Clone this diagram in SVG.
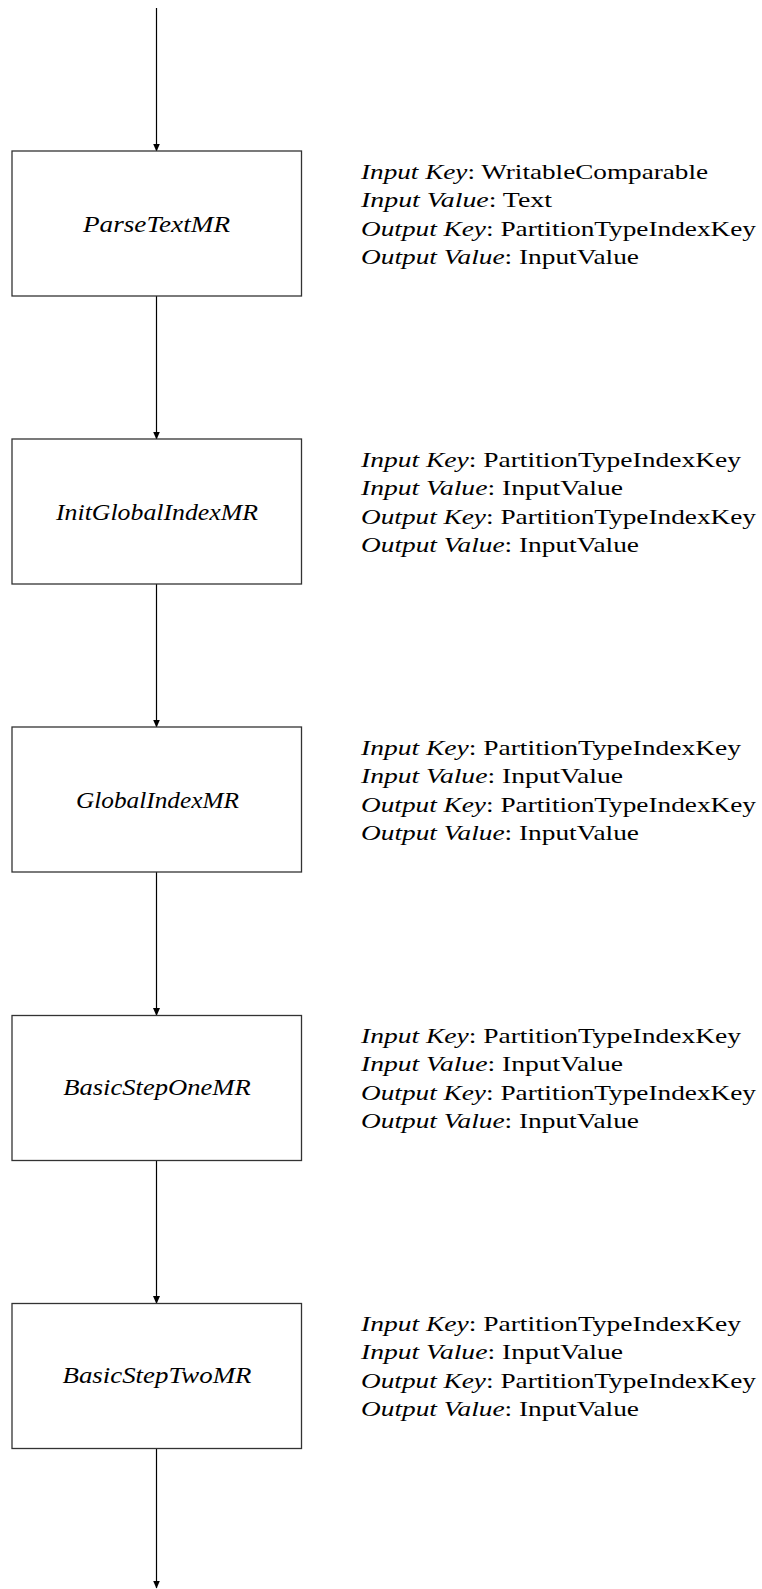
<svg xmlns="http://www.w3.org/2000/svg" width="762" height="1589" viewBox="0 0 762 1589">
<style>
.box{fill:#fff;stroke:#333;stroke-width:1.3}
text{font-family:"Liberation Serif","Times New Roman","DejaVu Serif",serif}
.lbl{font-style:italic;font-size:23px;text-anchor:middle;fill:#000}
.info{font-size:21.5px;fill:#000}
.it{font-style:italic}
.edge{stroke:#000;stroke-width:1.2;fill:none}
</style>
<defs>
<marker id="ah" markerWidth="8" markerHeight="11" refX="7.5" refY="3.5" orient="auto" markerUnits="userSpaceOnUse" viewBox="0 0 8 7">
<path d="M0,0 L8,3.5 L0,7 Z" fill="#000"/>
</marker>
</defs>
<g id="connectors">
<line class="edge" x1="156.5" y1="8" x2="156.5" y2="151" marker-end="url(#ah)"/>
<line class="edge" x1="156.5" y1="296" x2="156.5" y2="439" marker-end="url(#ah)"/>
<line class="edge" x1="156.5" y1="584" x2="156.5" y2="727" marker-end="url(#ah)"/>
<line class="edge" x1="156.5" y1="872" x2="156.5" y2="1015.5" marker-end="url(#ah)"/>
<line class="edge" x1="156.5" y1="1160.5" x2="156.5" y2="1303.5" marker-end="url(#ah)"/>
<line class="edge" x1="156.5" y1="1448.5" x2="156.5" y2="1588" marker-end="url(#ah)"/>
</g>
<g id="node1">
<rect class="box" x="12" y="151" width="289.5" height="145"/>
<text class="lbl" x="156.5" y="231.5" font-family="Liberation Serif, serif" textLength="147" lengthAdjust="spacingAndGlyphs">ParseTextMR</text>
</g>
<g id="info1">
<text class="info" x="361" y="179" font-family="Liberation Serif, serif" textLength="347" lengthAdjust="spacingAndGlyphs"><tspan class="it">Input Key</tspan>: WritableComparable</text>
<text class="info" x="361" y="207.4" font-family="Liberation Serif, serif" textLength="191" lengthAdjust="spacingAndGlyphs"><tspan class="it">Input Value</tspan>: Text</text>
<text class="info" x="361" y="235.8" font-family="Liberation Serif, serif" textLength="395" lengthAdjust="spacingAndGlyphs"><tspan class="it">Output Key</tspan>: PartitionTypeIndexKey</text>
<text class="info" x="361" y="264.2" font-family="Liberation Serif, serif" textLength="278" lengthAdjust="spacingAndGlyphs"><tspan class="it">Output Value</tspan>: InputValue</text>
</g>
<g id="node2">
<rect class="box" x="12" y="439" width="289.5" height="145"/>
<text class="lbl" x="157" y="519.5" font-family="Liberation Serif, serif" textLength="202" lengthAdjust="spacingAndGlyphs">InitGlobalIndexMR</text>
</g>
<g id="info2">
<text class="info" x="361" y="467" font-family="Liberation Serif, serif" textLength="380" lengthAdjust="spacingAndGlyphs"><tspan class="it">Input Key</tspan>: PartitionTypeIndexKey</text>
<text class="info" x="361" y="495.4" font-family="Liberation Serif, serif" textLength="262" lengthAdjust="spacingAndGlyphs"><tspan class="it">Input Value</tspan>: InputValue</text>
<text class="info" x="361" y="523.8" font-family="Liberation Serif, serif" textLength="395" lengthAdjust="spacingAndGlyphs"><tspan class="it">Output Key</tspan>: PartitionTypeIndexKey</text>
<text class="info" x="361" y="552.2" font-family="Liberation Serif, serif" textLength="278" lengthAdjust="spacingAndGlyphs"><tspan class="it">Output Value</tspan>: InputValue</text>
</g>
<g id="node3">
<rect class="box" x="12" y="727" width="289.5" height="145"/>
<text class="lbl" x="157.5" y="808" font-family="Liberation Serif, serif" textLength="163" lengthAdjust="spacingAndGlyphs">GlobalIndexMR</text>
</g>
<g id="info3">
<text class="info" x="361" y="755" font-family="Liberation Serif, serif" textLength="380" lengthAdjust="spacingAndGlyphs"><tspan class="it">Input Key</tspan>: PartitionTypeIndexKey</text>
<text class="info" x="361" y="783.4" font-family="Liberation Serif, serif" textLength="262" lengthAdjust="spacingAndGlyphs"><tspan class="it">Input Value</tspan>: InputValue</text>
<text class="info" x="361" y="811.8" font-family="Liberation Serif, serif" textLength="395" lengthAdjust="spacingAndGlyphs"><tspan class="it">Output Key</tspan>: PartitionTypeIndexKey</text>
<text class="info" x="361" y="840.2" font-family="Liberation Serif, serif" textLength="278" lengthAdjust="spacingAndGlyphs"><tspan class="it">Output Value</tspan>: InputValue</text>
</g>
<g id="node4">
<rect class="box" x="12" y="1015.5" width="289.5" height="145"/>
<text class="lbl" x="157" y="1095" font-family="Liberation Serif, serif" textLength="187.5" lengthAdjust="spacingAndGlyphs">BasicStepOneMR</text>
</g>
<g id="info4">
<text class="info" x="361" y="1043" font-family="Liberation Serif, serif" textLength="380" lengthAdjust="spacingAndGlyphs"><tspan class="it">Input Key</tspan>: PartitionTypeIndexKey</text>
<text class="info" x="361" y="1071.4" font-family="Liberation Serif, serif" textLength="262" lengthAdjust="spacingAndGlyphs"><tspan class="it">Input Value</tspan>: InputValue</text>
<text class="info" x="361" y="1099.8" font-family="Liberation Serif, serif" textLength="395" lengthAdjust="spacingAndGlyphs"><tspan class="it">Output Key</tspan>: PartitionTypeIndexKey</text>
<text class="info" x="361" y="1128.2" font-family="Liberation Serif, serif" textLength="278" lengthAdjust="spacingAndGlyphs"><tspan class="it">Output Value</tspan>: InputValue</text>
</g>
<g id="node5">
<rect class="box" x="12" y="1303.5" width="289.5" height="145"/>
<text class="lbl" x="157" y="1383" font-family="Liberation Serif, serif" textLength="189" lengthAdjust="spacingAndGlyphs">BasicStepTwoMR</text>
</g>
<g id="info5">
<text class="info" x="361" y="1331" font-family="Liberation Serif, serif" textLength="380" lengthAdjust="spacingAndGlyphs"><tspan class="it">Input Key</tspan>: PartitionTypeIndexKey</text>
<text class="info" x="361" y="1359.4" font-family="Liberation Serif, serif" textLength="262" lengthAdjust="spacingAndGlyphs"><tspan class="it">Input Value</tspan>: InputValue</text>
<text class="info" x="361" y="1387.8" font-family="Liberation Serif, serif" textLength="395" lengthAdjust="spacingAndGlyphs"><tspan class="it">Output Key</tspan>: PartitionTypeIndexKey</text>
<text class="info" x="361" y="1416.2" font-family="Liberation Serif, serif" textLength="278" lengthAdjust="spacingAndGlyphs"><tspan class="it">Output Value</tspan>: InputValue</text>
</g>
</svg>
